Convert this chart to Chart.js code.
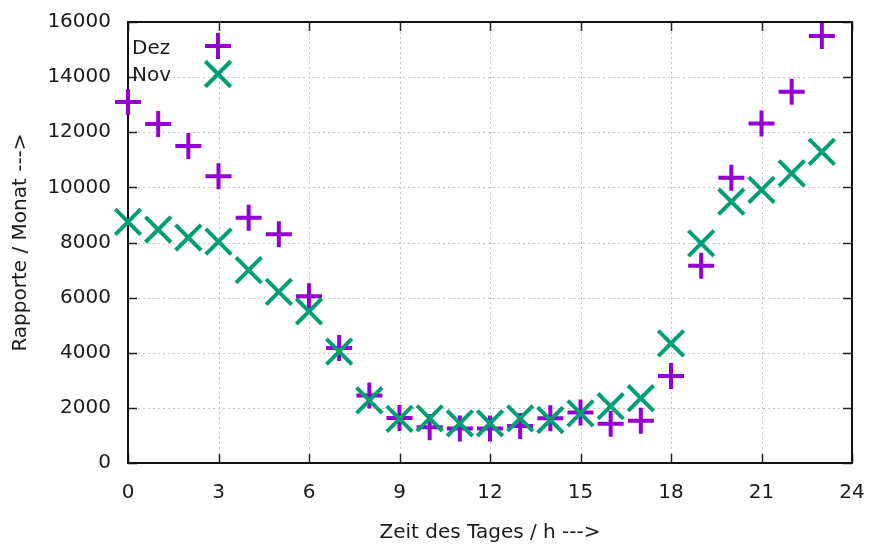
<!DOCTYPE html>
<html>
<head>
<meta charset="utf-8">
<script src="https://cdn.jsdelivr.net/npm/chart.js@4/dist/chart.umd.min.js"></script>
<style>
html,body{margin:0;padding:0;background:#fff;}
#wrap{width:874px;height:547px;}
</style>
</head>
<body>
<div id="wrap"><canvas id="c" width="874" height="547"></canvas></div>
<script>
const hours = [0,1,2,3,4,5,6,7,8,9,10,11,12,13,14,15,16,17,18,19,20,21,22,23];
const dezValues = [13100,12300,11500,10400,8900,8300,6050,4170,2450,1630,1300,1250,1250,1340,1620,1830,1420,1530,3160,7160,10350,12320,13470,15490];
const novValues = [8750,8470,8180,8030,7000,6210,5500,4040,2270,1600,1620,1440,1440,1620,1560,1800,2060,2350,4340,7970,9480,9910,10510,11290];
const xTickLabels = [0,3,6,9,12,15,18,21,24];
const yTickLabels = [0,2000,4000,6000,8000,10000,12000,14000,16000];
const seriesNames = ['Dez','Nov'];
const xTitle = 'Zeit des Tages / h --->';
const yTitle = 'Rapporte / Monat --->';

const PURPLE = '#9400D3';
const GREEN = '#009E73';
const FONT = 'DejaVu Sans';
const TEXT = '#1a1a1a';

function noLabelOverflow(s) {
  s._calculatePadding = function () {
    this.paddingLeft = 0; this.paddingRight = 0;
    this.paddingTop = 0; this.paddingBottom = 0;
  };
}

const framePlugin = {
  id: 'frame',
  beforeDatasetsDraw(chart) {
    const {ctx, chartArea: a, scales: {x, y}} = chart;
    ctx.save();
    ctx.strokeStyle = '#c4c4c4';
    ctx.lineWidth = 1;
    ctx.setLineDash([2, 3]);
    xTickLabels.forEach(v => {
      if (v <= x.min || v >= x.max) return;
      const px = Math.round(x.getPixelForValue(v)) + 0.5;
      ctx.beginPath(); ctx.moveTo(px, a.top); ctx.lineTo(px, a.bottom); ctx.stroke();
    });
    yTickLabels.forEach(v => {
      if (v <= y.min || v >= y.max) return;
      const py = Math.round(y.getPixelForValue(v)) + 0.5;
      ctx.beginPath(); ctx.moveTo(a.left, py); ctx.lineTo(a.right, py); ctx.stroke();
    });
    ctx.setLineDash([]);
    ctx.strokeStyle = '#222';
    ctx.lineWidth = 1.5;
    const tl = 9;
    xTickLabels.forEach(v => {
      const px = Math.round(x.getPixelForValue(v)) + 0.5;
      ctx.beginPath();
      ctx.moveTo(px, a.bottom); ctx.lineTo(px, a.bottom - tl);
      ctx.moveTo(px, a.top); ctx.lineTo(px, a.top + tl);
      ctx.stroke();
    });
    yTickLabels.forEach(v => {
      const py = Math.round(y.getPixelForValue(v)) + 0.5;
      ctx.beginPath();
      ctx.moveTo(a.left, py); ctx.lineTo(a.left + tl, py);
      ctx.moveTo(a.right, py); ctx.lineTo(a.right - tl, py);
      ctx.stroke();
    });
    ctx.lineWidth = 2;
    ctx.strokeStyle = '#111';
    ctx.strokeRect(a.left, a.top, a.right - a.left, a.bottom - a.top);
    ctx.restore();
  }
};

const legendPlugin = {
  id: 'gpLegend',
  afterDatasetsDraw(chart) {
    const {ctx, chartArea: a} = chart;
    ctx.save();
    ctx.font = '20px "' + FONT + '"';
    ctx.fillStyle = TEXT;
    ctx.textAlign = 'left';
    ctx.textBaseline = 'middle';
    const tx = a.left + 4;
    const mx = a.left + 90;
    const rows = [a.top + 26, a.top + 53];
    ctx.fillText(seriesNames[0], tx, rows[0] + 1);
    ctx.fillText(seriesNames[1], tx, rows[1] + 1);
    ctx.lineWidth = 4;
    ctx.strokeStyle = PURPLE;
    const r1 = 13;
    ctx.beginPath();
    ctx.moveTo(mx - r1, rows[0] - 2); ctx.lineTo(mx + r1, rows[0] - 2);
    ctx.moveTo(mx, rows[0] - 2 - r1); ctx.lineTo(mx, rows[0] - 2 + r1);
    ctx.stroke();
    ctx.strokeStyle = GREEN;
    const r2 = 18 * Math.SQRT1_2;
    const cy = rows[1] - 1;
    ctx.beginPath();
    ctx.moveTo(mx - r2, cy - r2); ctx.lineTo(mx + r2, cy + r2);
    ctx.moveTo(mx - r2, cy + r2); ctx.lineTo(mx + r2, cy - r2);
    ctx.stroke();
    ctx.restore();
  }
};

const toPoints = vals => hours.map((h, i) => ({x: h, y: vals[i]}));

new Chart(document.getElementById('c'), {
  type: 'scatter',
  data: {
    datasets: [
      {
        label: seriesNames[0],
        data: toPoints(dezValues),
        pointStyle: 'cross',
        pointRadius: 13,
        pointHoverRadius: 13,
        pointBorderWidth: 4,
        pointHoverBorderWidth: 4,
        borderColor: PURPLE,
        backgroundColor: PURPLE,
        clip: false,
        order: 2
      },
      {
        label: seriesNames[1],
        data: toPoints(novValues),
        pointStyle: 'crossRot',
        pointRadius: 18,
        pointHoverRadius: 18,
        pointBorderWidth: 4,
        pointHoverBorderWidth: 4,
        borderColor: GREEN,
        backgroundColor: GREEN,
        clip: false,
        order: 1
      }
    ]
  },
  options: {
    responsive: false,
    animation: false,
    events: [],
    layout: {padding: {top: 22, right: 19, left: 0, bottom: 0}},
    plugins: {legend: {display: false}, tooltip: {enabled: false}},
    scales: {
      x: {
        type: 'linear',
        min: 0, max: 24,
        afterSetDimensions: noLabelOverflow,
        afterFit(s) { s.height = 84; },
        afterBuildTicks(s) { s.ticks = xTickLabels.map(v => ({value: v})); },
        grid: {display: false, drawTicks: false},
        border: {display: false},
        ticks: {
          padding: 18,
          autoSkip: false,
          maxRotation: 0,
          color: TEXT,
          font: {family: FONT, size: 20}
        },
        title: {
          display: true,
          text: xTitle,
          color: TEXT,
          font: {family: FONT, size: 20},
          padding: {top: 0, bottom: 2}
        }
      },
      y: {
        type: 'linear',
        min: 0, max: 16000,
        afterSetDimensions: noLabelOverflow,
        afterFit(s) { s.width = 128; },
        afterBuildTicks(s) { s.ticks = yTickLabels.map(v => ({value: v})); },
        grid: {display: false, drawTicks: false},
        border: {display: false},
        ticks: {
          padding: 17,
          autoSkip: false,
          color: TEXT,
          font: {family: FONT, size: 20},
          callback: v => String(v)
        },
        title: {
          display: true,
          text: yTitle,
          color: TEXT,
          font: {family: FONT, size: 20},
          padding: {top: 9, bottom: 0}
        }
      }
    }
  },
  plugins: [framePlugin, legendPlugin]
});
</script>
</body>
</html>
